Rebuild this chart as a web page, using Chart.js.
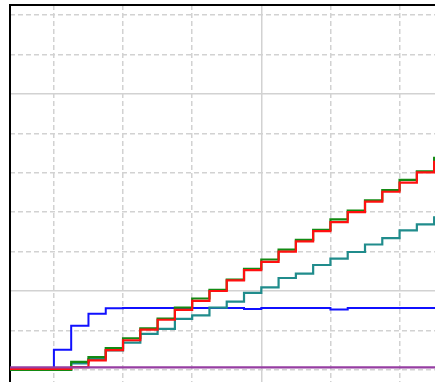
<!DOCTYPE html>
<html>
<head>
<meta charset="utf-8">
<script src="https://cdn.jsdelivr.net/npm/chart.js@4.4.0/dist/chart.umd.min.js"></script>
<style>
  html, body { margin: 0; padding: 0; background: #fff; overflow: hidden; }
  #wrap { width: 435px; height: 382px; }
</style>
</head>
<body>
<div id="wrap"><canvas id="myChart" width="435" height="382"></canvas></div>
<script>
// step positions (each value holds until the next x)
const stepX = [5, 8, 9, 10, 11, 12, 13, 14, 15, 16, 17, 18, 19, 20, 21, 22, 23, 24, 25, 26, 27, 28, 29, 30, 31];

const redValues = [8.02, 8.02, 8.07, 8.24, 8.5, 8.75, 9.02, 9.27, 9.52, 9.75, 10.0, 10.27, 10.53, 10.74, 11.0, 11.26, 11.52, 11.75, 12.0, 12.27, 12.52, 12.75, 13.01, 13.28, 13.28];
const greenValues = [8.0, 8.0, 8.2, 8.32, 8.55, 8.8, 9.05, 9.3, 9.58, 9.81, 10.03, 10.29, 10.56, 10.8, 11.05, 11.3, 11.55, 11.82, 12.04, 12.3, 12.56, 12.82, 13.04, 13.38, 13.38];
const tealValues = [8.0, 8.0, 8.16, 8.27, 8.49, 8.69, 8.91, 9.04, 9.29, 9.38, 9.58, 9.73, 9.95, 10.09, 10.33, 10.44, 10.66, 10.82, 10.99, 11.18, 11.34, 11.54, 11.69, 11.87, 11.87];
const blueValues = [8.0, 8.51, 9.12, 9.42, 9.56, 9.57, 9.57, 9.57, 9.57, 9.57, 9.57, 9.57, 9.54, 9.57, 9.57, 9.57, 9.57, 9.53, 9.57, 9.57, 9.57, 9.57, 9.57, 9.57, 9.57];
const purpleValues = [8.06, 8.06, 8.06, 8.06, 8.06, 8.06, 8.06, 8.06, 8.06, 8.06, 8.06, 8.06, 8.06, 8.06, 8.06, 8.06, 8.06, 8.06, 8.06, 8.06, 8.06, 8.06, 8.06, 8.06, 8.06];

// visible window of the axes, minor / major grid spacing
const xRange = [5.46, 30.05];
const yRange = [7.69, 17.26];
const xMinor = 4, xMajor = 20;
const yMinor = 1, yMajor = 5;

const toPoints = (vals) => vals.map((v, i) => ({x: stepX[i], y: v}));

const series = (data, color, width) => ({
    data: toPoints(data),
    borderColor: color,
    borderWidth: width,
    stepped: "before",
    pointRadius: 0,
    fill: false,
});

// keep only ticks on the grid spacing, optionally dropping the major ones
const keepEvery = (step, skip) => (scale) => {
    scale.ticks = scale.ticks.filter(t => {
        const r = Math.round(t.value / step);
        return Math.abs(t.value - r * step) < 1e-6 && (skip === 0 || r % skip !== 0);
    });
};

const gridColor = "#d2d2d2";

const gridAxis = (position, range, step, skip, dashed) => ({
    type: "linear", position, min: range[0], max: range[1],
    afterBuildTicks: keepEvery(step, skip),
    ticks: { display: false, stepSize: step, maxTicksLimit: 100, includeBounds: false },
    grid: { color: gridColor, lineWidth: 1.5, drawTicks: false },
    border: dashed
        ? { display: false, dash: [5, 3] }
        : { display: true, color: "#000", width: 2 },
});

const ctx = document.getElementById("myChart");
const myChart = new Chart(ctx, {
    type: "line",
    data: {
        datasets: [
            series(purpleValues, "#963ea2", 2.2),
            series(redValues, "#ff1010", 2.2),
            series(greenValues, "#138a13", 2.2),
            series(tealValues, "#208c8c", 2.2),
            series(blueValues, "#1010ff", 2),
        ]
    },
    options: {
        responsive: false,
        animation: false,
        layout: { padding: { left: 10, top: 5, right: 0, bottom: 0 } },
        plugins: { legend: { display: false }, tooltip: { enabled: false } },
        scales: {
            x: gridAxis("top", xRange, xMinor, xMajor / xMinor, true),
            xMajor: gridAxis("top", xRange, xMajor, 0, false),
            y: gridAxis("left", yRange, yMinor, yMajor / yMinor, true),
            yMajor: gridAxis("left", yRange, yMajor, 0, false),
        }
    }
});
</script>
</body>
</html>
